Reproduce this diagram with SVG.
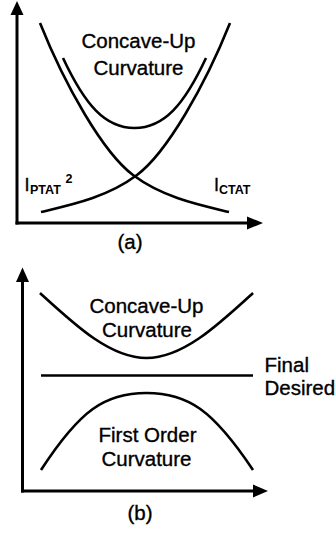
<svg xmlns="http://www.w3.org/2000/svg" width="336" height="536" viewBox="0 0 336 536">
<style>
.ax{stroke:#000;stroke-width:3;fill:none}
.cv{stroke:#000;stroke-width:2.6;fill:none}
.ah{fill:#000}
text{font-family:"Liberation Sans",Arial,sans-serif;fill:#000;stroke:#000;stroke-width:0.35}
.lb{font-size:20.5px;text-anchor:middle}
.rl{font-size:20.5px}
.big{font-size:18px}
.sub{font-size:12.5px;font-weight:bold;stroke-width:0}
</style>
<rect width="336" height="536" fill="#fff"/>
<g id="connectors">
<line class="ax" x1="17" y1="13" x2="17" y2="224.5"/>
<polygon class="ah" points="17,1 10.5,15 23.5,15"/>
<line class="ax" x1="15.5" y1="223" x2="249" y2="223"/>
<polygon class="ah" points="263,223 247,216.5 247,229.5"/>
<line class="ax" x1="22.5" y1="280" x2="22.5" y2="492.5"/>
<polygon class="ah" points="22.5,267.5 16,282 29,282"/>
<line class="ax" x1="21" y1="491" x2="255" y2="491"/>
<polygon class="ah" points="268,491 253,484.5 253,497.5"/>
</g>
<g id="ictat">
<path class="cv" d="M40,23 C65,85.5 103,152.5 133,175 C163,197.5 199,204.8 229,212"/>
<text class="big" x="214" y="191">I</text><text class="sub" x="219" y="194">CTAT</text>
</g>
<g id="iptat2">
<path class="cv" d="M230,23 C205,85.5 167,152.5 137,175 C107,197.5 71,204.8 41,212"/>
<text class="big" x="24.5" y="191">I</text><text class="sub" x="30" y="194">PTAT</text><text class="sub" x="65.5" y="183">2</text>
</g>
<g id="concave-a">
<path class="cv" d="M63,58 C85,105 105,128 134.5,128 C164,128 184,105 206,58"/>
<text class="lb" x="138.5" y="48">Concave-Up</text>
<text class="lb" x="138.5" y="75">Curvature</text>
</g>
<text id="label-a" class="lb" x="130" y="249">(a)</text>
<g id="concave-b">
<path class="cv" d="M40,293 C75,325 110,358 146.5,358 C183,358 218,325 253,293"/>
<text class="lb" x="146.5" y="313">Concave-Up</text>
<text class="lb" x="147" y="337">Curvature</text>
</g>
<g id="final-desired">
<line class="cv" x1="41" y1="375.5" x2="253" y2="375.5"/>
<text class="rl" x="264.5" y="372">Final</text>
<text class="rl" x="264.5" y="395">Desired</text>
</g>
<g id="first-order">
<path class="cv" d="M41,470 C80,410 105,393 146.5,393 C188,393 213,410 253,470"/>
<text class="lb" x="147.5" y="442">First Order</text>
<text class="lb" x="146.5" y="466">Curvature</text>
</g>
<text id="label-b" class="lb" x="140" y="520">(b)</text>
</svg>
